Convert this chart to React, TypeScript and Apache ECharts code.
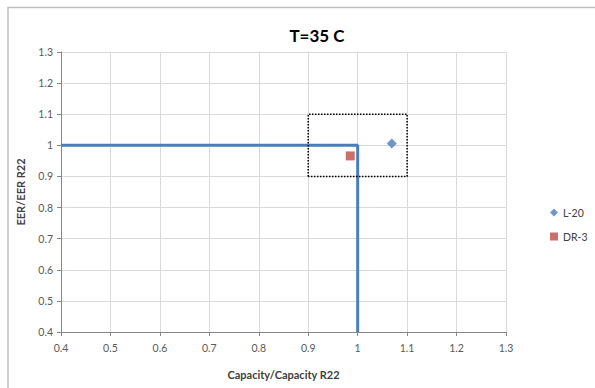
import React, { useEffect, useRef } from "react";
import * as echarts from "echarts";

const xTicks = [0.4, 1.3];
const yTicks = [0.4, 1.3];
const boundaryLine: [number, number][] = [[0.4, 1.0], [1.0, 1.0], [1.0, 0.4]];
const targetBox: [number, number][] = [[0.9, 0.9], [0.9, 1.1], [1.1, 1.1], [1.1, 0.9], [0.9, 0.9]];
const seriesNames = ["L-20", "DR-3"];
const l20Data: [number, number][] = [[1.069, 1.006]];
const dr3Data: [number, number][] = [[0.985, 0.966]];

const FONT = "Lato";

export default function App() {
  const ref = useRef<HTMLDivElement>(null);
  useEffect(() => {
    if (!ref.current) return;
    const chart = echarts.init(ref.current, null, { renderer: "svg" });
    chart.setOption({
      animation: false,
      backgroundColor: "#ffffff",
      textStyle: { fontFamily: FONT },
      title: {
        text: "T=35 C",
        left: 312,
        top: 22,
        textAlign: "center",
        textStyle: { fontFamily: FONT, fontSize: 17, fontWeight: "bold", color: "#000000" },
      },
      graphic: [
        {
          type: "rect",
          shape: { x: 8, y: 7.5, width: 620, height: 420 },
          style: { fill: "none", stroke: "#bfbfbf", lineWidth: 1.5 },
          silent: true,
        },
      ],
      grid: { left: 61, right: 89, top: 52, bottom: 56 },
      legend: {
        data: seriesNames,
        orient: "vertical",
        left: 545,
        top: 202,
        itemGap: 13,
        itemWidth: 8,
        itemHeight: 8,
        textStyle: { fontFamily: FONT, fontSize: 10.5, color: "#404040" },
      },
      xAxis: {
        type: "value",
        min: xTicks[0],
        max: xTicks[1],
        interval: 0.1,
        name: "Capacity/Capacity R22",
        nameLocation: "middle",
        nameGap: 37,
        nameTextStyle: { fontFamily: FONT, fontSize: 11, fontWeight: "bold", color: "#404040" },
        axisLine: { show: true, lineStyle: { color: "#868686", width: 1 } },
        axisTick: { show: true, length: 4, lineStyle: { color: "#868686" } },
        axisLabel: {
          margin: 10,
          fontSize: 10.5,
          color: "#595959",
          formatter: (v: number) => String(Math.round(v * 10) / 10),
        },
        splitLine: { show: true, lineStyle: { color: "#d9d9d9", width: 1 } },
      },
      yAxis: {
        type: "value",
        min: yTicks[0],
        max: yTicks[1],
        interval: 0.1,
        name: "EER/EER R22",
        nameLocation: "middle",
        nameGap: 35,
        nameTextStyle: { fontFamily: FONT, fontSize: 11, fontWeight: "bold", color: "#404040" },
        axisLine: { show: true, lineStyle: { color: "#868686", width: 1 } },
        axisTick: { show: true, length: 4, lineStyle: { color: "#868686" } },
        axisLabel: {
          margin: 8,
          fontSize: 10.5,
          color: "#595959",
          formatter: (v: number) => String(Math.round(v * 10) / 10),
        },
        splitLine: { show: true, lineStyle: { color: "#d9d9d9", width: 1 } },
      },
      series: [
        {
          name: "boundary",
          type: "line",
          data: boundaryLine,
          symbol: "none",
          lineStyle: { color: "#4a7ebb", width: 3 },
          silent: true,
          z: 3,
        },
        {
          name: "box",
          type: "line",
          data: targetBox,
          symbol: "none",
          lineStyle: { color: "#000000", width: 1.5, type: [1.5, 1.5] },
          silent: true,
          z: 3,
        },
        {
          name: seriesNames[0],
          type: "scatter",
          data: l20Data,
          symbol: "diamond",
          symbolSize: 10,
          itemStyle: { color: "#4a7ebb" },
          z: 5,
        },
        {
          name: seriesNames[1],
          type: "scatter",
          data: dr3Data,
          symbol: "rect",
          symbolSize: 9,
          itemStyle: { color: "#be4b48" },
          z: 5,
        },
      ],
    });
    return () => chart.dispose();
  }, []);
  return (
    <div
      ref={ref}
      style={{ position: "fixed", left: 0, top: 0, width: 595, height: 388 }}
    />
  );
}
